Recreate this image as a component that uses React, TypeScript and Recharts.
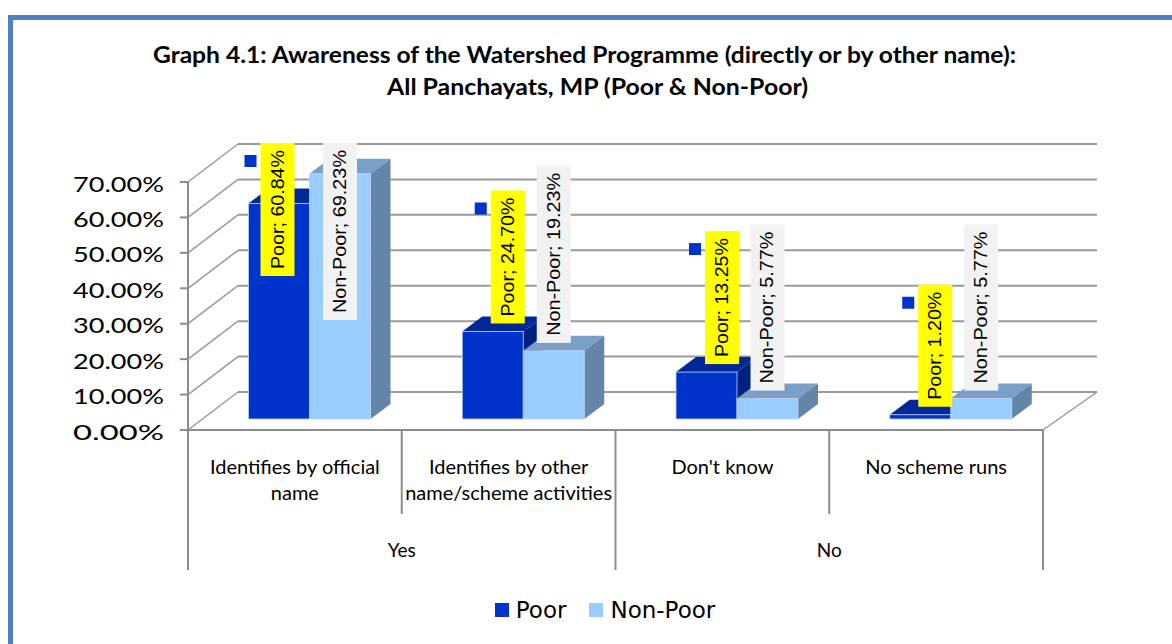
import { BarChart, Bar, XAxis, YAxis, CartesianGrid, Legend, LabelList } from "recharts";

const categories = [
  "Identifies by official\nname",
  "Identifies by other\nname/scheme activities",
  "Don't know",
  "No scheme runs",
];
const groups = ["Yes", "", "No", ""];
const poor = [60.84, 24.7, 13.25, 1.2];
const nonPoor = [69.23, 19.23, 5.77, 5.77];
const yTicks = [0, 10, 20, 30, 40, 50, 60, 70];
const titleLines = [
  "Graph 4.1: Awareness of the Watershed Programme (directly or by other name):",
  "All Panchayats, MP (Poor & Non-Poor)",
];

const data = categories.map((name, i) => ({ name, group: groups[i], poor: poor[i], nonPoor: nonPoor[i] }));

const FONT = "Lato, sans-serif";
const AXIS_GREY = "#8c8c8c";
const GRID_GREY = "#9a9a9a";
const BAND = 213.75;
// the chart is a fake 3D box: back wall offset, and the offset of the bars inside the box
const WALL_DX = 50;
const WALL_DY = -38;
const BAR_DX = 14.5;
const BAR_DY = -11;
const FACE_DX = 20;
const FACE_DY = -15;
const LABEL_TOP = 143;
// sideways nudge of the yellow labels, they do not sit centred on the Poor bars
const poorLabelShift = [-1.5, 15, 15.5, 15];
const noLabelShift = [0, 0, 0, 0];
const titleWidths = [863, 421];
const titleCentres = [584.5, 597.5];

function box3d(top: string, side: string) {
  return (props: any) => {
    const x = props.x + BAR_DX;
    const y = props.y + BAR_DY;
    const { width: w, height: h, fill } = props;
    return (
      <g>
        <polygon
          points={`${x},${y} ${x + FACE_DX},${y + FACE_DY} ${x + w + FACE_DX},${y + FACE_DY} ${x + w},${y}`}
          fill={top}
        />
        <polygon
          points={`${x + w},${y} ${x + w + FACE_DX},${y + FACE_DY} ${x + w + FACE_DX},${y + h + FACE_DY} ${x + w},${y + h}`}
          fill={side}
        />
        <rect x={x} y={y} width={w} height={h} fill={fill} stroke="#bfd2f2" strokeWidth={0.8} />
      </g>
    );
  };
}

function rotatedLabel(seriesName: string, background: string, legendKey: string | null, shifts: number[]) {
  return (props: any) => {
    const text = `${seriesName}; ${Number(props.value).toFixed(2)}%`;
    const len = text.length * 11 + 1;
    const cx = props.x + BAR_DX + props.width / 2 + shifts[props.index];
    const top = Math.max(LABEL_TOP, props.y + BAR_DY - 8 - len);
    const cy = top + len / 2;
    return (
      <g>
        {legendKey && <rect x={cx - 33} y={top + 12} width={12} height={12} fill={legendKey} />}
        <rect x={cx - 17} y={top} width={34} height={len} fill={background} />
        <text
          x={cx}
          y={cy}
          transform={`rotate(-90 ${cx} ${cy})`}
          textAnchor="middle"
          dominantBaseline="central"
          fontFamily="'Liberation Sans', sans-serif"
          fontSize={18}
          textLength={len - 14}
          lengthAdjust="spacingAndGlyphs"
          fill="#000"
        >
          {text}
        </text>
      </g>
    );
  };
}

function gridLine(props: any) {
  const { x1, x2, y1 } = props;
  const floor = y1 > 420;
  return (
    <g key={props.key}>
      <line x1={x1} y1={y1} x2={x1 + WALL_DX} y2={y1 + WALL_DY} stroke={GRID_GREY} strokeWidth={1.5} />
      <line x1={x1 + WALL_DX} y1={y1 + WALL_DY} x2={x2 + 54} y2={y1 + WALL_DY} stroke={GRID_GREY} strokeWidth={2} />
      {floor && <line x1={x2} y1={y1} x2={x2 + 54} y2={y1 + WALL_DY} stroke={GRID_GREY} strokeWidth={1.5} />}
    </g>
  );
}

function ValueTick(props: any) {
  const { x, y, payload } = props;
  return (
    <text
      x={x}
      y={y + 1}
      textAnchor="end"
      dominantBaseline="central"
      fontFamily={FONT}
      fontSize={21}
      textLength={91}
      lengthAdjust="spacingAndGlyphs"
      fill="#000"
    >
      {`${payload.value.toFixed(2)}%`}
    </text>
  );
}

function CategoryTick(props: any) {
  const { x, y, payload, index } = props;
  const left = x - BAND / 2;
  const lines = String(payload.value).split("\n");
  const long = index % 2 === 0;
  return (
    <g>
      <line x1={left} y1={y} x2={left} y2={y + (long ? 140 : 84)} stroke={AXIS_GREY} strokeWidth={2} />
      {index === categories.length - 1 && (
        <line x1={x + BAND / 2} y1={y} x2={x + BAND / 2} y2={y + 140} stroke={AXIS_GREY} strokeWidth={2} />
      )}
      {lines.map((line, i) => (
        <text key={line} x={x} y={y + 44 + i * 26} textAnchor="middle" fontFamily={FONT} fontSize={20} fill="#000">
          {line}
        </text>
      ))}
      {groups[index] && (
        <text x={x + BAND / 2} y={y + 127} textAnchor="middle" fontFamily={FONT} fontSize={19} fill="#000">
          {groups[index]}
        </text>
      )}
    </g>
  );
}

function LegendRow(props: any) {
  return (
    <div style={{ display: "flex", justifyContent: "center", alignItems: "center", gap: 23 }}>
      {(props.payload || []).map((item: any) => (
        <div key={item.value} style={{ display: "flex", alignItems: "center", gap: 7 }}>
          <span style={{ width: 14, height: 14, background: item.color, display: "inline-block" }} />
          <span style={{ fontFamily: "'DejaVu Sans', sans-serif", fontSize: 23, color: "#000" }}>{item.value}</span>
        </div>
      ))}
    </div>
  );
}

export default function App() {
  return (
    <div style={{ position: "absolute", left: 0, top: 0, width: 1172, height: 644, overflow: "hidden", background: "#fff" }}>
      <div
        style={{
          position: "absolute",
          left: 8,
          top: 15,
          width: 1164,
          height: 629,
          boxSizing: "border-box",
          borderTop: "5px solid #4f81bd",
          borderLeft: "5px solid #4f81bd",
        }}
      />
      <BarChart
        width={1172}
        height={644}
        data={data}
        barSize={61}
        barGap={0}
        margin={{ top: 182, left: 128, right: 129, bottom: 74 }}
        style={{ position: "absolute", left: 0, top: 0 }}
      >
        {titleLines.map((line, i) => (
          <text
            key={line}
            x={titleCentres[i]}
            y={63 + i * 32}
            textAnchor="middle"
            fontFamily={FONT}
            fontWeight={700}
            fontSize={23}
            textLength={titleWidths[i]}
            lengthAdjust="spacingAndGlyphs"
            fill="#000"
          >
            {line}
          </text>
        ))}
        <CartesianGrid horizontal={gridLine} vertical={false} />
        <XAxis
          dataKey="name"
          interval={0}
          height={140}
          tickSize={0}
          tickMargin={0}
          tick={<CategoryTick />}
          axisLine={{ stroke: AXIS_GREY, strokeWidth: 2 }}
        />
        <YAxis
          width={60}
          domain={[0, 70]}
          ticks={yTicks}
          tickSize={8}
          tickMargin={16}
          tick={<ValueTick />}
          axisLine={{ stroke: AXIS_GREY, strokeWidth: 2 }}
          tickLine={{ stroke: AXIS_GREY, strokeWidth: 2 }}
        />
        <Legend
          verticalAlign="middle"
          align="center"
          itemSorter={null}
          content={<LegendRow />}
          wrapperStyle={{ left: 0, top: 597, width: 1210 }}
        />
        <Bar dataKey="poor" name="Poor" fill="#0033cc" isAnimationActive={false} shape={box3d("#002899", "#002080")}>
          <LabelList dataKey="poor" content={rotatedLabel("Poor", "#ffff00", "#0033cc", poorLabelShift)} />
        </Bar>
        <Bar dataKey="nonPoor" name="Non-Poor" fill="#99ccff" isAnimationActive={false} shape={box3d("#7aa0c8", "#6485a8")}>
          <LabelList dataKey="nonPoor" content={rotatedLabel("Non-Poor", "#f2f2f2", null, noLabelShift)} />
        </Bar>
      </BarChart>
    </div>
  );
}
